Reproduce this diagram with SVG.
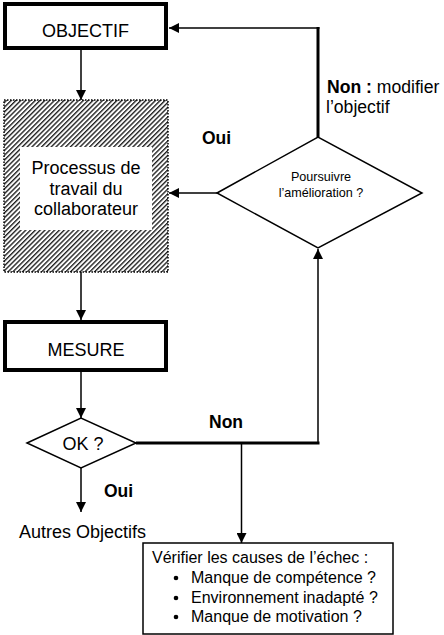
<svg xmlns="http://www.w3.org/2000/svg" width="444" height="635" viewBox="0 0 444 635">
<style>
text{font-family:"Liberation Sans",Arial,sans-serif;fill:#000}
.big{font-size:18px}
.b{font-weight:bold;font-size:17.5px}
.box{fill:#fff;stroke:#000;stroke-width:4}
.dia{fill:#fff;stroke:#000;stroke-width:1.5}
.ln{fill:none;stroke:#000;stroke-width:1.5}
.thk{fill:none;stroke:#000;stroke-width:3}
.it{font-size:16px}
.nm{font-size:17.6px}
</style>
<defs>
<marker id="ah" viewBox="0 0 10 10" refX="10" refY="5" markerWidth="10" markerHeight="10" markerUnits="userSpaceOnUse" orient="auto">
<path d="M0,0 L10,5 L0,10 Z" fill="#000"/>
</marker>
<pattern id="hatch" patternUnits="userSpaceOnUse" width="3.4" height="3.4" patternTransform="rotate(45)">
<rect width="3.4" height="3.4" fill="#fff"/>
<line x1="0.7" y1="0" x2="0.7" y2="3.4" stroke="#111" stroke-width="1.3"/>
</pattern>
</defs>
<g id="connectors">
<line class="ln" x1="81" y1="50" x2="81" y2="100" marker-end="url(#ah)"/>
<line class="ln" x1="81" y1="272" x2="81" y2="320" marker-end="url(#ah)"/>
<line class="ln" x1="81" y1="372" x2="81" y2="418" marker-end="url(#ah)"/>
<line class="ln" x1="81" y1="468" x2="81" y2="512" marker-end="url(#ah)"/>
<line class="ln" x1="217" y1="193" x2="169" y2="193" marker-end="url(#ah)"/>
<line class="thk" x1="318" y1="137" x2="318" y2="27"/>
<line class="ln" x1="319.5" y1="28" x2="169" y2="28" marker-end="url(#ah)"/>
<polyline class="thk" points="136,443 318,443 318,441.5"/>
<line class="ln" x1="318" y1="443" x2="318" y2="249" marker-end="url(#ah)"/>
<line class="ln" x1="241.5" y1="443" x2="241.5" y2="543" marker-end="url(#ah)"/>
</g>
<g id="objectif">
<rect class="box" x="5" y="4" width="161" height="44"/>
<text class="big" x="85.5" y="37" text-anchor="middle">OBJECTIF</text>
</g>
<g id="processus">
<rect x="4" y="100" width="164" height="172" fill="url(#hatch)" stroke="#000" stroke-width="1.5" stroke-dasharray="1.5 1.5"/>
<rect x="20" y="147" width="132" height="83" fill="#fff"/>
<text class="big" x="86" y="174" text-anchor="middle">Processus de</text>
<text class="big" x="86" y="195" text-anchor="middle">travail du</text>
<text class="big" x="86" y="215" text-anchor="middle">collaborateur</text>
</g>
<g id="poursuivre">
<polygon class="dia" points="217,193 318,137 422,193 318,248"/>
<text x="321" y="181" font-size="12.6" text-anchor="middle">Poursuivre</text>
<text x="321" y="197" font-size="12.6" text-anchor="middle">l’amélioration ?</text>
</g>
<g id="mesure">
<rect class="box" x="5" y="322" width="161" height="48"/>
<text class="big" x="86" y="356" text-anchor="middle">MESURE</text>
</g>
<g id="ok">
<polygon class="dia" points="27,443 81,418 136,443 81,468"/>
<text class="big" x="83" y="450" text-anchor="middle">OK ?</text>
</g>
<g id="autres">
<text class="big" x="19" y="538">Autres Objectifs</text>
</g>
<g id="verifier">
<rect x="143" y="543" width="250" height="91" fill="#fff" stroke="#000" stroke-width="1.5"/>
<text class="it" x="152" y="563">Vérifier les causes de l’échec :</text>
<circle cx="176" cy="578" r="2.3" fill="#000"/>
<circle cx="176" cy="598" r="2.3" fill="#000"/>
<circle cx="176" cy="617" r="2.3" fill="#000"/>
<text class="it" x="191" y="583">Manque de compétence ?</text>
<text class="it" x="191" y="603">Environnement inadapté ?</text>
<text class="it" x="191" y="622">Manque de motivation ?</text>
</g>
<g id="labels">
<text class="nm" x="327" y="93"><tspan font-weight="bold">Non :</tspan> modifier</text>
<text class="nm" x="326" y="113">l’objectif</text>
<text class="b" x="202" y="144">Oui</text>
<text class="b" x="209" y="428">Non</text>
<text class="b" x="104" y="497">Oui</text>
</g>
</svg>
